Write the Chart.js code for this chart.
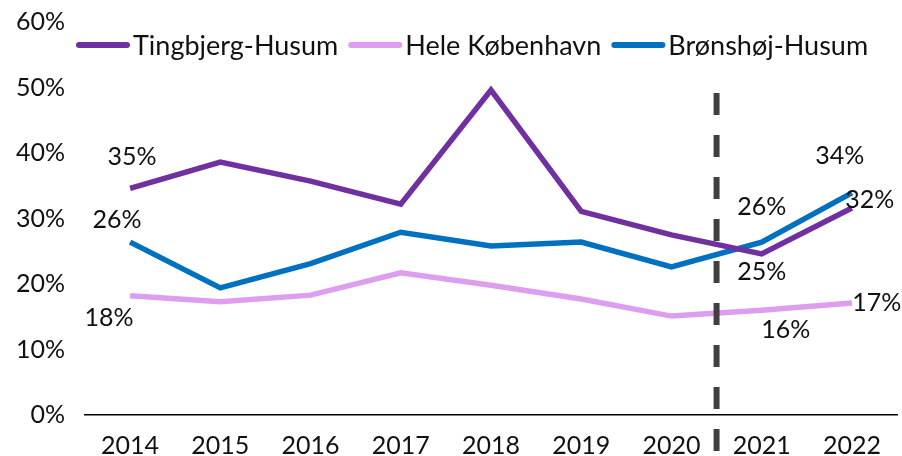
<!DOCTYPE html>
<html>
<head>
<meta charset="utf-8">
<script src="https://cdn.jsdelivr.net/npm/chart.js@4.4.1/dist/chart.umd.min.js"></script>
<style>
  html, body { margin: 0; padding: 0; background: #fff; }
  #wrap { width: 902px; height: 456px; position: relative; }
</style>
</head>
<body>
<div id="wrap"><canvas id="chart"></canvas></div>
<script>
const years = ['2014', '2015', '2016', '2017', '2018', '2019', '2020', '2021', '2022'];
const tingbjerg = [34.6, 38.6, 35.7, 32.2, 49.6, 31.1, 27.5, 24.6, 31.6];
const heleKbh = [18.2, 17.3, 18.3, 21.7, 19.8, 17.7, 15.1, 16.0, 17.1];
const bronshoj = [26.4, 19.4, 23.1, 27.9, 25.8, 26.4, 22.6, 26.4, 33.9];
const seriesNames = ['Tingbjerg-Husum', 'Hele København', 'Brønshøj-Husum'];
const yTicks = [0, 10, 20, 30, 40, 50, 60];

const FONT = 'Lato, "Noto Sans", sans-serif';
const colors = ['#7030A0', '#DE9EF0', '#0070C0'];

// where the value labels sit relative to their point (dataset -> index -> [dx, dy])
const labelOffsets = [
    { 0: [2, -31], 7: [0, 18], 8: [18, -8] },
    { 0: [-21, 22], 7: [24, 20], 8: [25, 0] },
    { 0: [-13, -22], 7: [0, -35], 8: [-12, -37] }
];

const valueLabels = {
    id: 'valueLabels',
    afterDatasetsDraw(chart) {
        const ctx = chart.ctx;
        ctx.save();
        ctx.font = '25px ' + FONT;
        ctx.fillStyle = '#111';
        ctx.textAlign = 'center';
        ctx.textBaseline = 'middle';
        chart.data.datasets.forEach((ds, i) => {
            const meta = chart.getDatasetMeta(i);
            Object.keys(labelOffsets[i]).forEach(k => {
                const pt = meta.data[k];
                const off = labelOffsets[i][k];
                ctx.fillText(Math.round(ds.data[k]) + '%', pt.x + off[0], pt.y + off[1]);
            });
        });
        ctx.restore();
    }
};

const splitLine = {
    id: 'splitLine',
    afterDatasetsDraw(chart) {
        const x = chart.scales.x;
        const px = (x.getPixelForValue(6) + x.getPixelForValue(7)) / 2;
        const ctx = chart.ctx;
        ctx.save();
        ctx.strokeStyle = '#404040';
        ctx.lineWidth = 6;
        ctx.setLineDash([22, 20]);
        ctx.beginPath();
        ctx.moveTo(px, 93);
        ctx.lineTo(px, 456);
        ctx.stroke();
        ctx.restore();
    }
};

const topLegend = {
    id: 'topLegend',
    afterDraw(chart) {
        const ctx = chart.ctx;
        ctx.save();
        ctx.font = '27px ' + FONT;
        ctx.textBaseline = 'middle';
        let x = 76;
        const y = 45;
        chart.data.datasets.forEach(ds => {
            ctx.strokeStyle = ds.borderColor;
            ctx.lineWidth = 6;
            ctx.lineCap = 'round';
            ctx.beginPath();
            ctx.moveTo(x + 3, y);
            ctx.lineTo(x + 51, y);
            ctx.stroke();
            ctx.fillStyle = '#111';
            ctx.fillText(ds.label, x + 57, y + 1);
            x += 57 + ctx.measureText(ds.label).width + 10;
        });
        ctx.restore();
    }
};

new Chart(document.getElementById('chart'), {
    type: 'line',
    data: {
        labels: years,
        datasets: [tingbjerg, heleKbh, bronshoj].map((d, i) => ({
            label: seriesNames[i],
            data: d,
            borderColor: colors[i],
            backgroundColor: colors[i],
            borderWidth: 5.5,
            pointRadius: 0,
            tension: 0
        }))
    },
    options: {
        responsive: true,
        maintainAspectRatio: false,
        animation: false,
        layout: { padding: { top: 22, right: 5, left: 0, bottom: 0 } },
        plugins: {
            legend: { display: false },
            tooltip: { enabled: false }
        },
        scales: {
            x: {
                offset: true,
                grid: { display: false, drawTicks: false },
                border: { display: true, color: '#000', width: 1.5 },
                ticks: { font: { family: FONT, size: 25 }, color: '#111', padding: 16, maxRotation: 0 },
                afterFit(scale) { scale.height = 41; }
            },
            y: {
                min: 0,
                max: 60,
                afterBuildTicks(scale) { scale.ticks = yTicks.map(v => ({ value: v })); },
                grid: { display: false, drawTicks: false },
                border: { display: false },
                ticks: {
                    font: { family: FONT, size: 25 },
                    color: '#111',
                    padding: 20,
                    callback: v => v + '%'
                },
                afterFit(scale) {
                    scale.width = 85;
                    scale.paddingTop = 0;
                    scale.paddingBottom = 0;
                }
            }
        }
    },
    plugins: [valueLabels, splitLine, topLegend]
});
</script>
</body>
</html>
